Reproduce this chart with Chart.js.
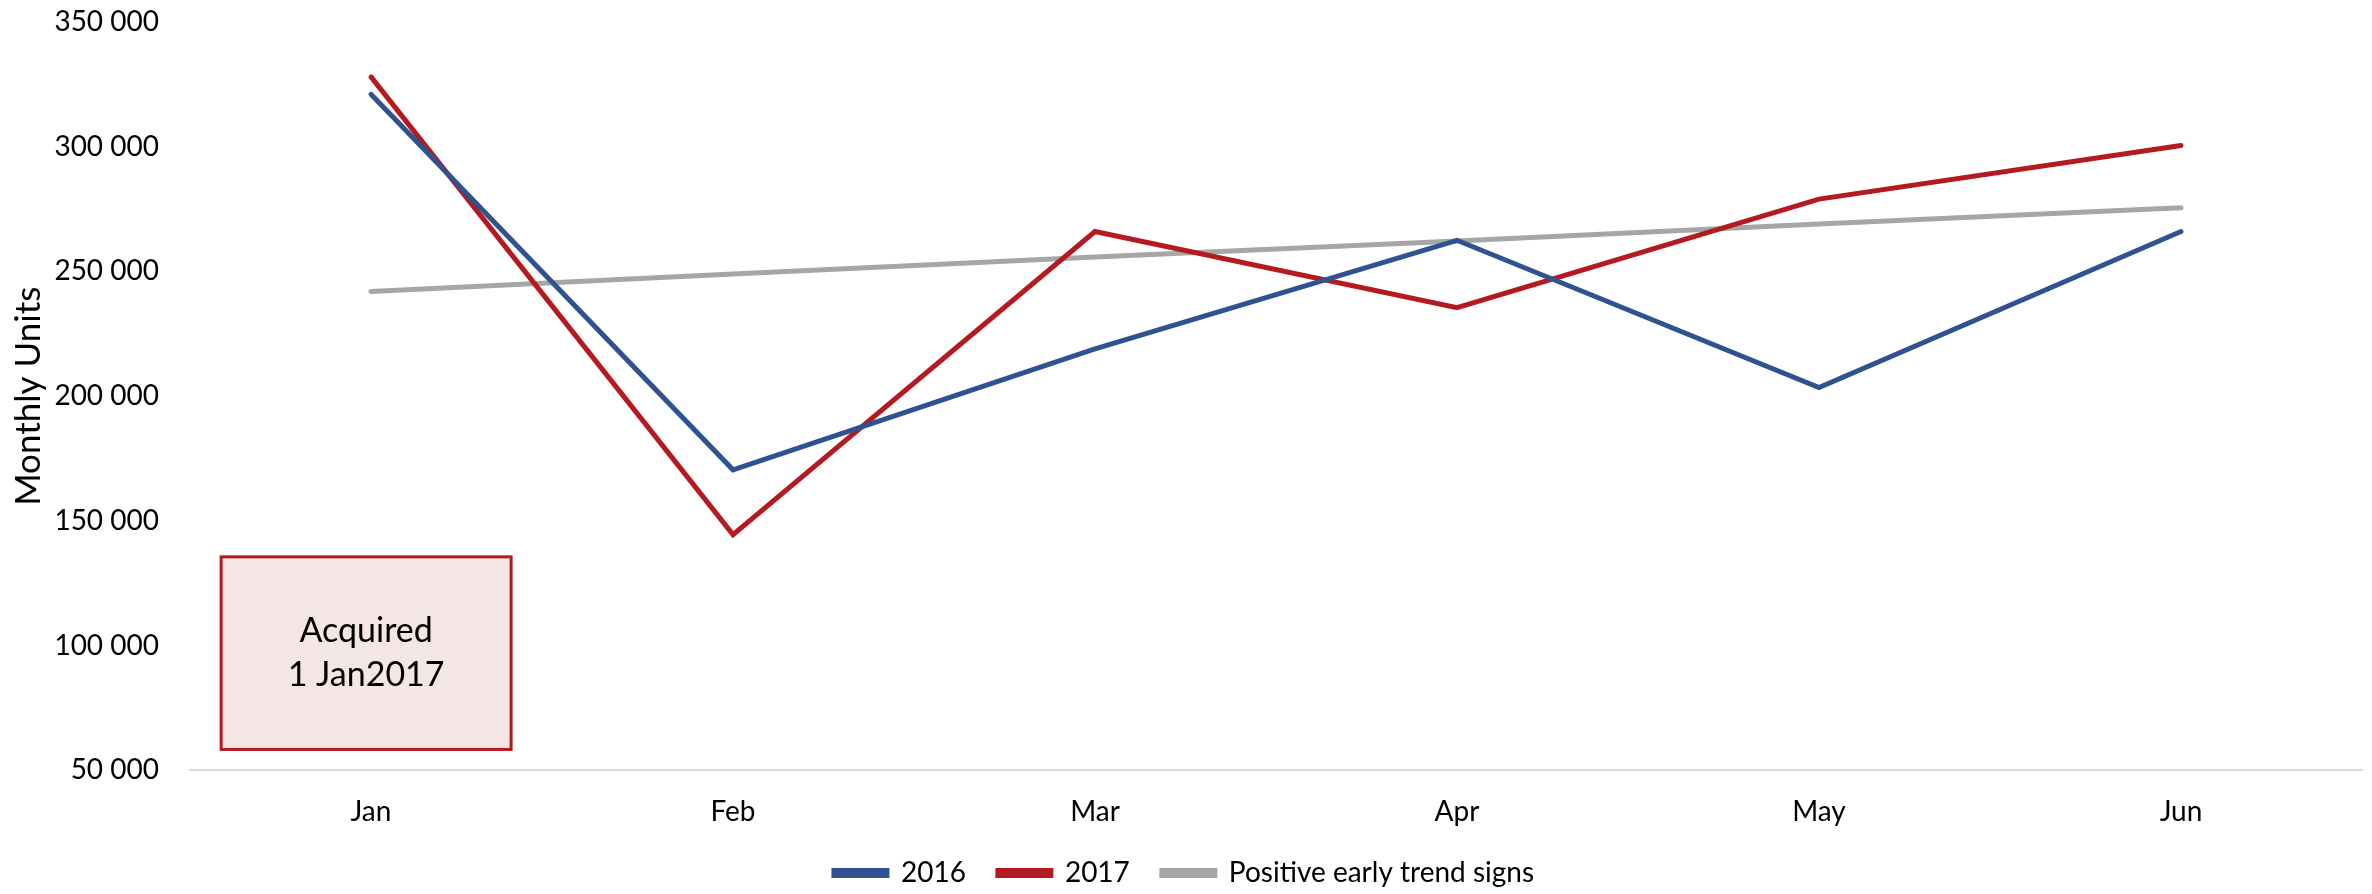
<!DOCTYPE html>
<html>
<head>
<meta charset="utf-8">
<script src="https://cdn.jsdelivr.net/npm/chart.js@4.4.1/dist/chart.umd.min.js"></script>
<style>
  html, body { margin: 0; padding: 0; background: #fff; }
  #wrap { width: 2372px; height: 894px; position: relative; }
</style>
</head>
<body>
<div id="wrap"><canvas id="chart"></canvas></div>
<script>
// ── DATA ──
const months = ['Jan', 'Feb', 'Mar', 'Apr', 'May', 'Jun'];
const units2016 = [321000, 170500, 219000, 262500, 203500, 266000];
const units2017 = [328000, 144500, 266000, 235500, 279000, 300500];
const trendSigns = [242000, 249000, 255800, 262200, 269000, 275500];
const yTicks = [50000, 100000, 150000, 200000, 250000, 300000, 350000];

const FONT = 'Lato, "Open Sans", sans-serif';
const BLUE = '#2F5391';
const RED  = '#B51A21';
const GREY = '#A6A6A6';

// ── ACQUIRED NOTE BOX ──
const noteBox = {
  id: 'noteBox',
  beforeDatasetsDraw(chart) {
    const { ctx, scales: { x, y } } = chart;
    const step = x.getPixelForValue(1) - x.getPixelForValue(0);
    const left = x.getPixelForValue(0) - step * 0.414;
    const right = x.getPixelForValue(0) + step * 0.387;
    const top = y.getPixelForValue(135600);
    const bottom = y.getPixelForValue(58400);
    ctx.save();
    ctx.fillStyle = '#F5E6E6';
    ctx.fillRect(left, top, right - left, bottom - top);
    ctx.strokeStyle = RED;
    ctx.lineWidth = 3;
    ctx.strokeRect(left, top, right - left, bottom - top);
    ctx.fillStyle = '#000';
    ctx.font = '34px ' + FONT;
    ctx.textAlign = 'center';
    ctx.textBaseline = 'middle';
    const cx = (left + right) / 2, cy = (top + bottom) / 2;
    ctx.fillText('Acquired', cx, cy - 22);
    ctx.fillText('1 Jan2017', cx, cy + 22);
    ctx.restore();
  }
};

const line = (label, data, color) => ({
  label,
  data,
  borderColor: color,
  backgroundColor: color,
  borderWidth: 5,
  borderCapStyle: 'round',
  borderJoinStyle: 'miter',
  pointRadius: 0,
  tension: 0,
  fill: false,
});

new Chart(document.getElementById('chart'), {
  type: 'line',
  data: {
    labels: months,
    datasets: [
      line('2016', units2016, BLUE),
      line('2017', units2017, RED),
      line('Positive early trend signs', trendSigns, GREY),
    ]
  },
  options: {
    responsive: true,
    maintainAspectRatio: false,
    animation: false,
    layout: { padding: { top: 22, right: 10, left: 6, bottom: -3 } },
    plugins: {
      tooltip: { enabled: false },
      legend: {
        position: 'bottom',
        labels: {
          color: '#000',
          font: { family: FONT, size: 28 },
          boxWidth: 53,
          boxHeight: 5,
          padding: 32,
        }
      }
    },
    scales: {
      x: {
        offset: true,
        grid: { display: false, drawTicks: false },
        border: { display: true, color: '#D9D9D9', width: 2 },
        ticks: { color: '#000', font: { family: FONT, size: 28 }, padding: 25 },
        afterFit: axis => { axis.height -= 27; }
      },
      y: {
        min: 50000,
        max: 350000,
        afterBuildTicks: axis => { axis.ticks = yTicks.map(v => ({ value: v })); },
        afterFit: axis => { axis.width = 184; axis.paddingTop = 0; axis.paddingBottom = 0; },
        grid: { display: false, drawTicks: false },
        border: { display: false },
        title: {
          display: true,
          text: 'Monthly Units',
          color: '#000',
          font: { family: FONT, size: 35 },
          padding: { top: 2, bottom: 4 }
        },
        ticks: {
          color: '#000',
          font: { family: FONT, size: 28 },
          padding: 31,
          callback: v => v.toLocaleString('en-US').replace(/,/g, ' ')
        }
      }
    }
  },
  plugins: [noteBox]
});
</script>
</body>
</html>
